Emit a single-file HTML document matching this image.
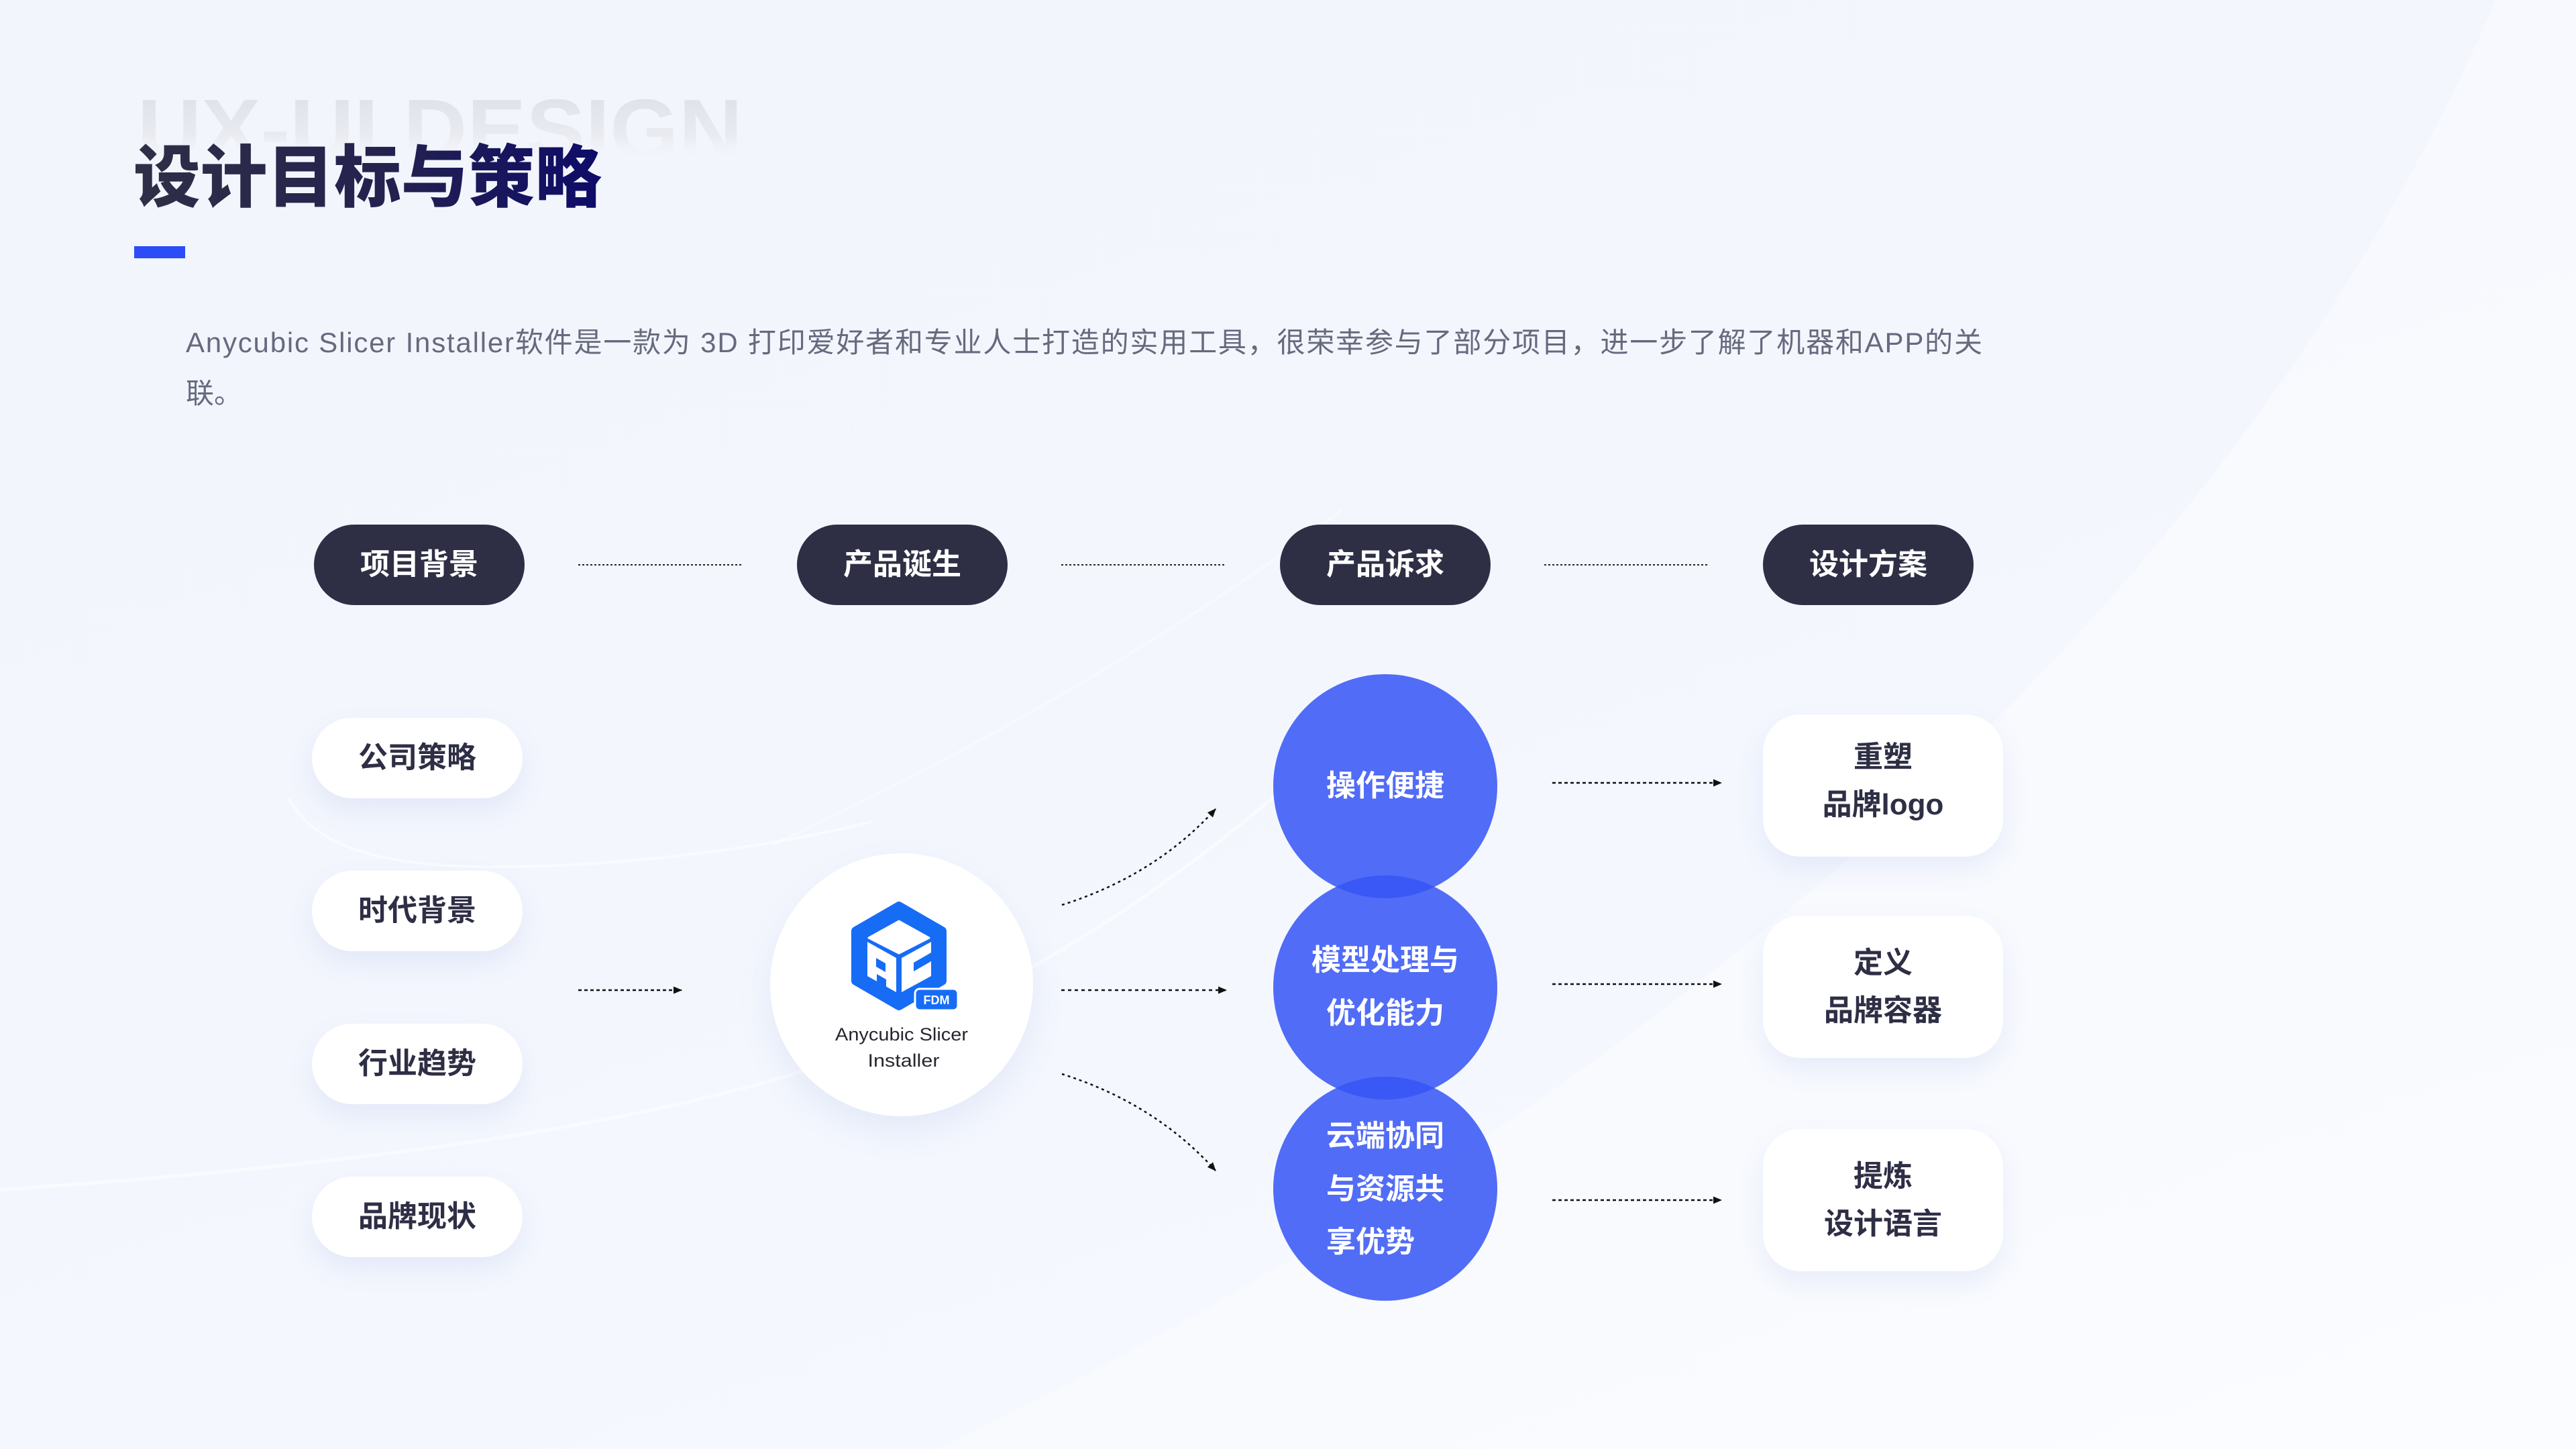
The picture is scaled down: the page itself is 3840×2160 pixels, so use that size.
<!DOCTYPE html>
<html><head><meta charset="utf-8">
<style>
html,body{margin:0;padding:0;}
body{width:3840px;height:2160px;overflow:hidden;position:relative;background:linear-gradient(160deg,#f2f5fb 0%,#f3f6fd 45%,#f5f8fe 75%,#f8faff 100%);font-family:"Liberation Sans","Noto Sans CJK SC",sans-serif;}
svg{position:absolute;left:0;top:0;}
.dp{position:absolute;top:782px;width:314px;height:120px;border-radius:60px;background:#2e2f45;color:#fff;font-weight:700;font-size:44px;display:flex;align-items:center;justify-content:center;line-height:1;}
.wp{position:absolute;left:465px;width:314px;height:120px;border-radius:60px;background:#fff;color:#2e2f45;font-weight:700;font-size:44px;display:flex;align-items:center;justify-content:center;box-shadow:0 18px 40px rgba(90,120,210,0.10);line-height:1;}
.card{position:absolute;left:2628px;width:358px;height:212px;border-radius:56px;background:#fff;color:#2e2f45;font-weight:700;font-size:44px;line-height:71px;text-align:center;display:flex;align-items:center;justify-content:center;box-shadow:0 18px 40px rgba(90,120,210,0.10);}
.ct{position:absolute;width:334px;left:1898px;color:#fff;font-weight:700;font-size:44px;line-height:79px;text-align:center;}
.hub{position:absolute;left:1148px;top:1272px;width:392px;height:392px;border-radius:50%;background:#fff;box-shadow:0 22px 50px rgba(90,120,210,0.10);}
</style></head>
<body>
<svg width="3840" height="2160" viewBox="0 0 3840 2160">
  <path d="M 3720 0 C 3420 700, 2750 1500, 1400 2160 L 3840 2160 L 3840 0 Z" fill="#ffffff" opacity="0.35"/>
  <path d="M -20 1775 C 500 1740, 1000 1680, 1300 1560 C 1600 1430, 1800 1280, 2000 1100" stroke="#ffffff" stroke-width="5" fill="none" opacity="0.55"/>
  <path d="M 1150 1260 C 1450 1120, 1750 950, 2000 760" stroke="#ffffff" stroke-width="4" fill="none" opacity="0.35"/>
  <path d="M 430 1190 C 470 1260, 560 1295, 760 1292 C 950 1290, 1150 1262, 1300 1225" stroke="#ffffff" stroke-width="4" fill="none" opacity="0.5"/>
</svg>

<div class="dp" style="left:468px">项目背景</div>
<div class="dp" style="left:1188px">产品诞生</div>
<div class="dp" style="left:1908px">产品诉求</div>
<div class="dp" style="left:2628px">设计方案</div>

<div class="wp" style="top:1070px">公司策略</div>
<div class="wp" style="top:1298px">时代背景</div>
<div class="wp" style="top:1526px">行业趋势</div>
<div class="wp" style="top:1754px">品牌现状</div>

<div class="card" style="top:1065px"><div style="margin-top:-14px">重塑<br>品牌logo</div></div>
<div class="card" style="top:1365px"><div>定义<br>品牌容器</div></div>
<div class="card" style="top:1683px"><div>提炼<br>设计语言</div></div>

<div class="hub"></div>

<svg width="3840" height="2160" viewBox="0 0 3840 2160">
  <defs>
    <marker id="ah" markerUnits="userSpaceOnUse" markerWidth="13" markerHeight="11" refX="12" refY="5.5" orient="auto">
      <path d="M0,0 L13,5.5 L0,11 z" fill="#111"/>
    </marker>
    <linearGradient id="tg" gradientUnits="userSpaceOnUse" x1="205" y1="0" x2="892" y2="0">
      <stop offset="0" stop-color="#2f2f46"/>
      <stop offset="0.55" stop-color="#24214f"/>
      <stop offset="1" stop-color="#0e0c68"/>
    </linearGradient>
    <linearGradient id="ug" gradientUnits="userSpaceOnUse" x1="0" y1="145" x2="0" y2="240">
      <stop offset="0" stop-color="#e0e2e9"/>
      <stop offset="0.6" stop-color="#e9ebf1"/>
      <stop offset="1" stop-color="#f3f5fb" stop-opacity="0"/>
    </linearGradient>
  </defs>

  <text x="205" y="237" font-family="Liberation Sans, sans-serif" font-weight="700" font-size="128" textLength="902" lengthAdjust="spacingAndGlyphs" fill="url(#ug)">UX-UI DESIGN</text>
  <text x="199" y="300" font-family="Liberation Sans, Noto Sans CJK SC, sans-serif" font-weight="900" font-size="101" textLength="698" lengthAdjust="spacingAndGlyphs" fill="url(#tg)">设计目标与策略</text>
  <rect x="200" y="367" width="76" height="18" fill="#2b4cf6"/>

  <text x="277" y="525" font-family="Liberation Sans, Noto Sans CJK SC, sans-serif" font-size="42" fill="#676a7e" textLength="2678" lengthAdjust="spacing">Anycubic Slicer Installer软件是一款为 3D 打印爱好者和专业人士打造的实用工具，很荣幸参与了部分项目，进一步了解了机器和APP的关</text>
  <text x="277" y="601" font-family="Liberation Sans, Noto Sans CJK SC, sans-serif" font-size="42" fill="#676a7e">联。</text>

  <g stroke="#222" stroke-width="2" stroke-dasharray="3 3" fill="none">
    <line x1="862" y1="842" x2="1107" y2="842"/>
    <line x1="1582" y1="842" x2="1827" y2="842"/>
    <line x1="2302" y1="842" x2="2547" y2="842"/>
  </g>

  <g stroke="#111" stroke-width="2.5" fill="none" marker-end="url(#ah)">
    <line x1="862" y1="1476" x2="1016" y2="1476" stroke-dasharray="5 4"/>
    <line x1="1582" y1="1476" x2="1828" y2="1476" stroke-dasharray="5 5"/>
    <path d="M 1583 1349 Q 1722 1305 1812 1206" stroke-dasharray="4 5"/>
    <path d="M 1583 1601 Q 1722 1645 1812 1745" stroke-dasharray="4 5"/>
    <line x1="2314" y1="1167" x2="2566" y2="1167" stroke-dasharray="5 4"/>
    <line x1="2314" y1="1467" x2="2566" y2="1467" stroke-dasharray="5 4"/>
    <line x1="2314" y1="1789" x2="2566" y2="1789" stroke-dasharray="5 4"/>
  </g>

  <g fill="rgba(54,85,244,0.86)">
    <circle cx="2065" cy="1172" r="167"/>
    <circle cx="2065" cy="1472" r="167"/>
    <circle cx="2065" cy="1772" r="167"/>
  </g>

  <!-- logo -->
  <polygon points="1340,1351 1404,1388 1404,1462 1340,1499 1276,1462 1276,1388" fill="#176cf6" stroke="#176cf6" stroke-width="14" stroke-linejoin="round"/>
  <polygon points="1340,1373 1385,1398 1340,1421 1295,1398" fill="#fff" stroke="#fff" stroke-width="3" stroke-linejoin="round"/>
  <polygon points="1293,1404 1336,1428 1336,1479 1293,1455" fill="#fff"/>
  <polygon points="1344,1428 1388,1404 1388,1455 1344,1479" fill="#fff"/>
  <polygon points="1306,1428 1320,1436 1320,1449 1306,1441" fill="#176cf6"/>
  <polygon points="1307,1452 1321,1460 1321,1472 1307,1464" fill="#176cf6"/>
  <polygon points="1362,1435 1388,1420 1388,1433 1362,1448" fill="#176cf6"/>
  <rect x="1364" y="1474" width="64" height="32" rx="7" fill="#176cf6" stroke="#fff" stroke-width="3"/>
  <text x="1396" y="1497" text-anchor="middle" font-family="Liberation Sans, sans-serif" font-weight="700" font-size="18" fill="#fff">FDM</text>

  <text x="1344" y="1551" text-anchor="middle" font-family="Liberation Sans, sans-serif" font-size="27" fill="#26262f" textLength="198" lengthAdjust="spacingAndGlyphs">Anycubic Slicer</text>
  <text x="1347" y="1590" text-anchor="middle" font-family="Liberation Sans, sans-serif" font-size="27" fill="#26262f" textLength="107" lengthAdjust="spacingAndGlyphs">Installer</text>
</svg>

<div class="ct" style="top:1132px">操作便捷</div>
<div class="ct" style="top:1392px">模型处理与<br>优化能力</div>
<div class="ct" style="top:1654px"><div style="display:inline-block;text-align:left">云端协同<br>与资源共<br>享优势</div></div>

</body></html>
